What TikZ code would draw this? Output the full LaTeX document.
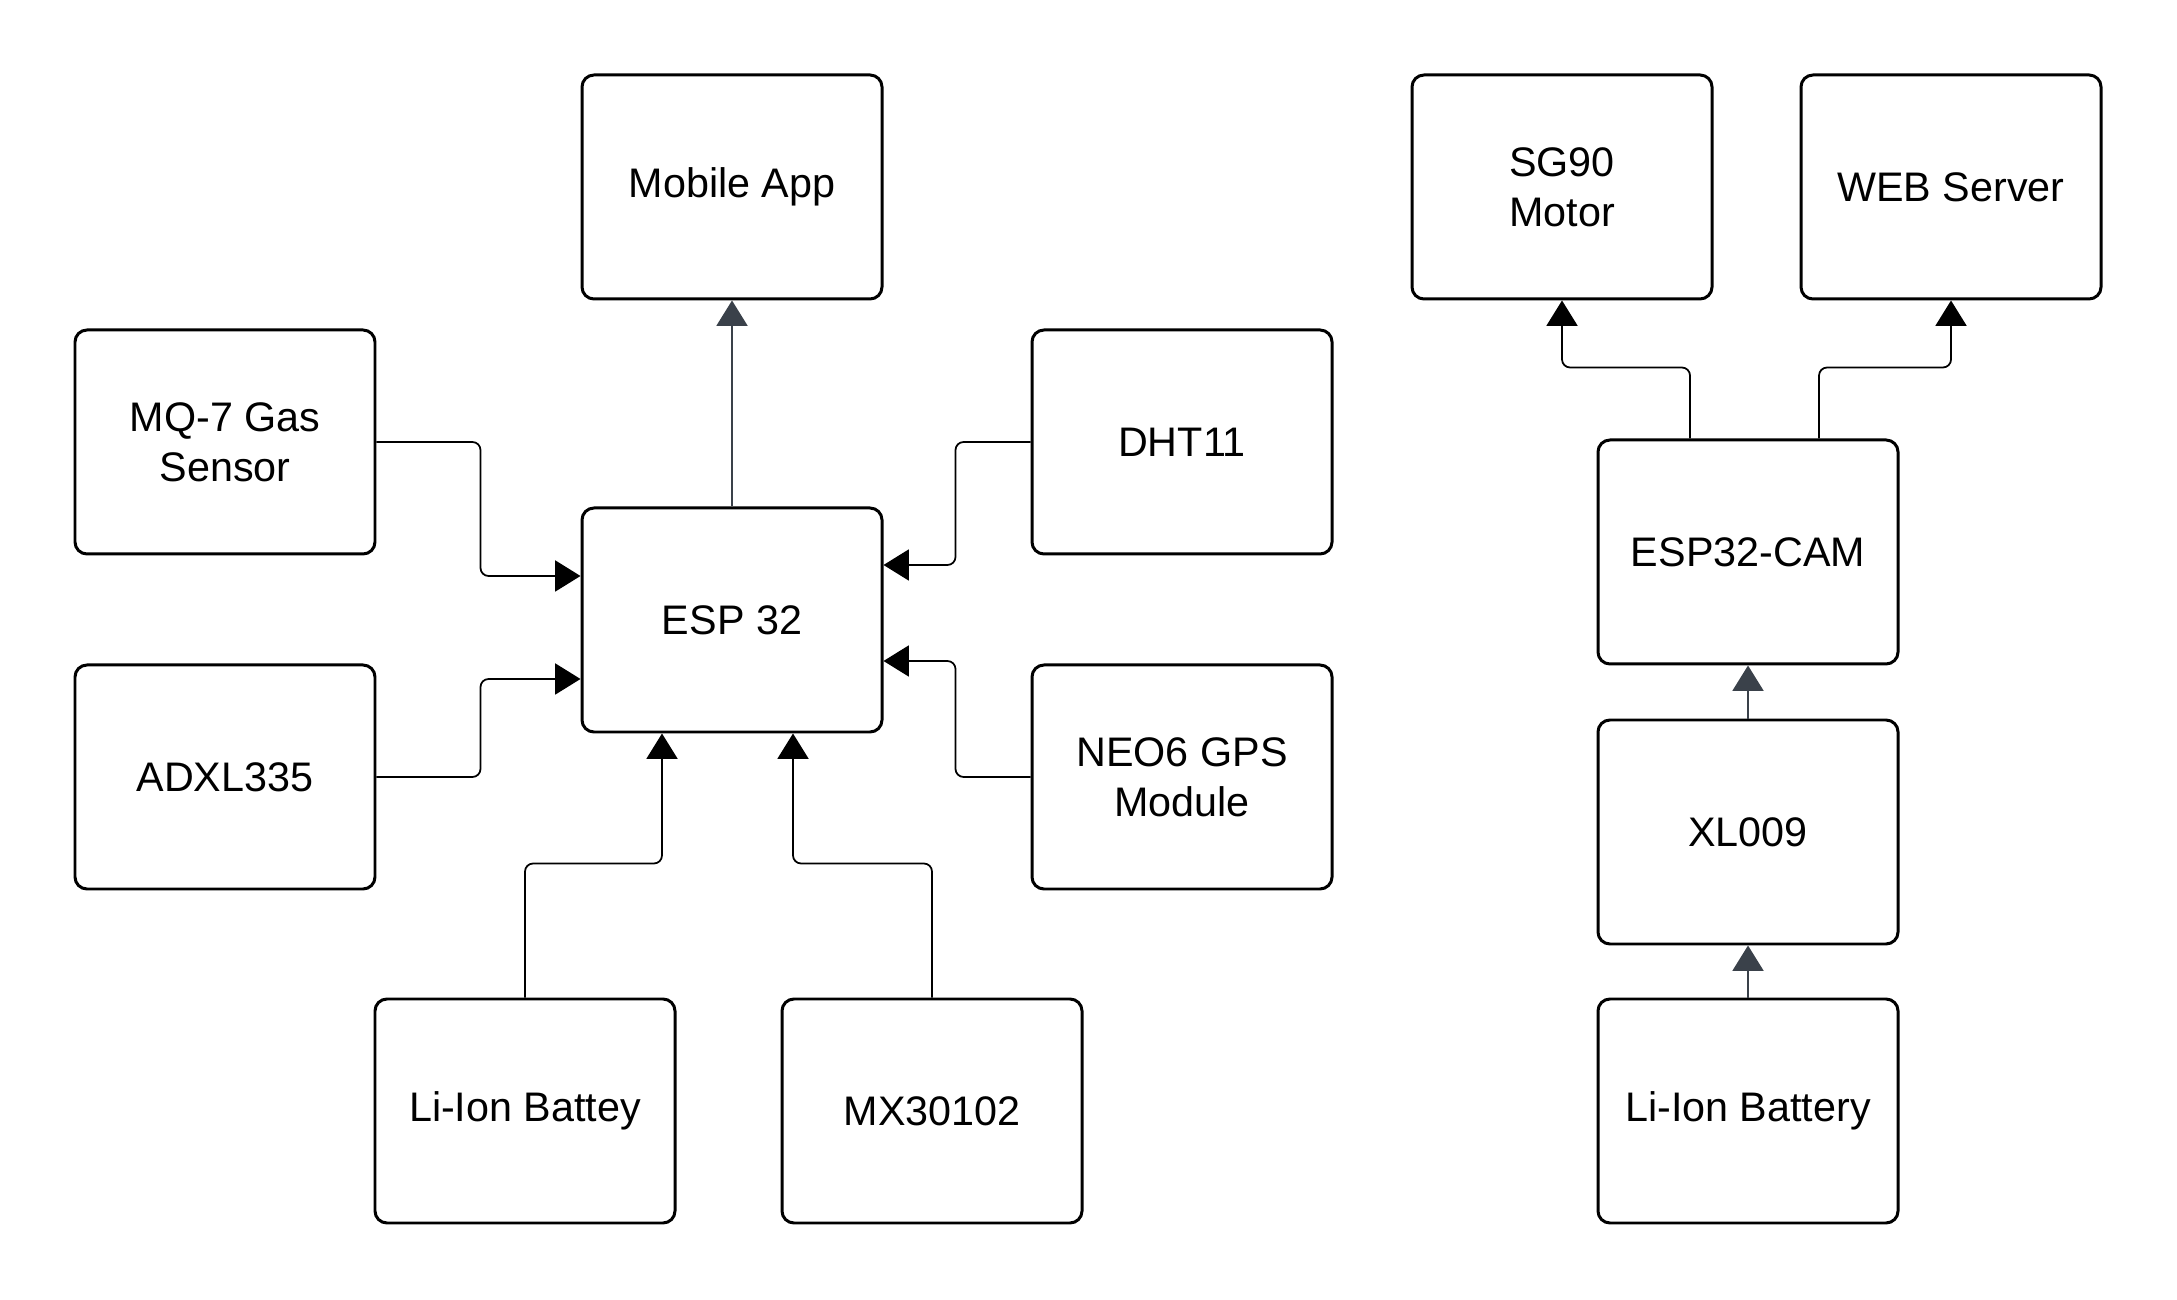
\documentclass[tikz,border=0pt]{standalone}
\usepackage{fontspec}
\setmainfont{Liberation Sans}
\usetikzlibrary{arrows.meta}
\definecolor{arrgray}{RGB}{58,65,74}

\begin{document}
\begin{tikzpicture}[
    block/.style={draw, line width=0.85pt, rounded corners=3.4pt,
        minimum width=3cm, minimum height=2.24cm, align=center,
        font=\fontsize{11.75}{14.2}\selectfont},
    conn/.style={line width=0.5pt, rounded corners=2.3pt,
        -{Triangle[width=8.8pt,length=7.2pt]}},
    connd/.style={conn, draw=arrgray}
]
    \useasboundingbox (0,0) rectangle (21.77,12.99);

    % Define blocks of the wearable unit
    \node[block] (app)  at (7.32,11.12) {Mobile App};
    \node[block] (esp)  at (7.32,6.79)  {ESP 32};
    \node[block] (mq7)  at (2.25,8.57)  {MQ-7 Gas\\Sensor};
    \node[block] (adxl) at (2.25,5.22)  {ADXL335};
    \node[block] (dht)  at (11.82,8.57) {DHT11};
    \node[block] (neo)  at (11.82,5.22) {NEO6 GPS\\Module};
    \node[block] (bat)  at (5.25,1.88)  {Li-Ion Battey};
    \node[block] (max)  at (9.32,1.88)  {MX30102};

    % Define blocks of the camera unit
    \node[block] (sg)   at (15.62,11.12) {SG90\\Motor};
    \node[block] (web)  at (19.51,11.12) {WEB Server};
    \node[block] (cam)  at (17.48,7.47)  {ESP32-CAM};
    \node[block] (xl)   at (17.48,4.67)  {XL009};
    \node[block] (batc) at (17.48,1.88)  {Li-Ion Battery};

    % Sensors into the ESP 32
    \draw[conn] (mq7.east) -- ++(1.04,0) |- ([yshift=0.44cm]esp.west);
    \draw[conn] (adxl.east) -- ++(1.04,0) |- ([yshift=-0.59cm]esp.west);
    \draw[conn] (dht.west) -- ++(-0.75,0) |- ([yshift=0.55cm]esp.east);
    \draw[conn] (neo.west) -- ++(-0.75,0) |- ([yshift=-0.41cm]esp.east);
    \draw[conn] (bat.north) -- ++(0,1.34) -| ([xshift=-0.70cm]esp.south);
    \draw[conn] (max.north) -- ++(0,1.34) -| ([xshift=0.61cm]esp.south);
    \draw[connd] (esp.north) -- (app.south);

    % Camera unit links
    \draw[conn] ([xshift=-0.58cm]cam.north) -- ++(0,0.71) -| (sg.south);
    \draw[conn] ([xshift=0.71cm]cam.north) -- ++(0,0.71) -| (web.south);
    \draw[connd] (xl.north) -- (cam.south);
    \draw[connd] (batc.north) -- (xl.south);

\end{tikzpicture}
\end{document}
